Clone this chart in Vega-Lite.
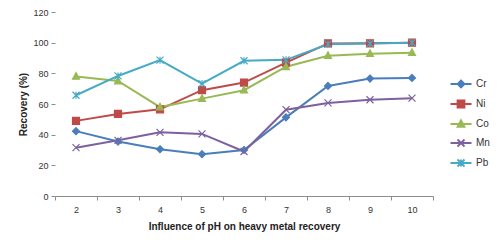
{
  "$schema": "https://vega.github.io/schema/vega-lite/v6.json",
  "autosize": "none",
  "width": 378,
  "height": 184,
  "padding": {"left": 55, "top": 12, "right": 67, "bottom": 52},
  "background": "white",
  "config": {
    "view": {"stroke": null},
    "font": "Liberation Sans",
    "axis": {"labelFont": "Liberation Sans", "titleFont": "Liberation Sans", "labelColor": "#333333", "titleColor": "#222222", "grid": false},
    "legend": {"labelFont": "Liberation Sans"}
  },
  "data": {
    "values": [
      {"pH": 2, "metal": "Cr", "value": 42.3},
      {"pH": 3, "metal": "Cr", "value": 35.5},
      {"pH": 4, "metal": "Cr", "value": 30.5},
      {"pH": 5, "metal": "Cr", "value": 27.3},
      {"pH": 6, "metal": "Cr", "value": 30},
      {"pH": 7, "metal": "Cr", "value": 51.3},
      {"pH": 8, "metal": "Cr", "value": 71.8},
      {"pH": 9, "metal": "Cr", "value": 76.6},
      {"pH": 10, "metal": "Cr", "value": 77},
      {"pH": 2, "metal": "Ni", "value": 49},
      {"pH": 3, "metal": "Ni", "value": 53.5},
      {"pH": 4, "metal": "Ni", "value": 56.5},
      {"pH": 5, "metal": "Ni", "value": 69},
      {"pH": 6, "metal": "Ni", "value": 74},
      {"pH": 7, "metal": "Ni", "value": 87},
      {"pH": 8, "metal": "Ni", "value": 99.5},
      {"pH": 9, "metal": "Ni", "value": 99.6},
      {"pH": 10, "metal": "Ni", "value": 100},
      {"pH": 2, "metal": "Co", "value": 78},
      {"pH": 3, "metal": "Co", "value": 75},
      {"pH": 4, "metal": "Co", "value": 58},
      {"pH": 5, "metal": "Co", "value": 63.5},
      {"pH": 6, "metal": "Co", "value": 69},
      {"pH": 7, "metal": "Co", "value": 84.3},
      {"pH": 8, "metal": "Co", "value": 91.5},
      {"pH": 9, "metal": "Co", "value": 92.8},
      {"pH": 10, "metal": "Co", "value": 93.5},
      {"pH": 2, "metal": "Mn", "value": 31.5},
      {"pH": 3, "metal": "Mn", "value": 36.3},
      {"pH": 4, "metal": "Mn", "value": 41.5},
      {"pH": 5, "metal": "Mn", "value": 40.5},
      {"pH": 6, "metal": "Mn", "value": 29},
      {"pH": 7, "metal": "Mn", "value": 56.3},
      {"pH": 8, "metal": "Mn", "value": 60.7},
      {"pH": 9, "metal": "Mn", "value": 62.8},
      {"pH": 10, "metal": "Mn", "value": 63.8},
      {"pH": 2, "metal": "Pb", "value": 65.7},
      {"pH": 3, "metal": "Pb", "value": 78.3},
      {"pH": 4, "metal": "Pb", "value": 88.6},
      {"pH": 5, "metal": "Pb", "value": 73.3},
      {"pH": 6, "metal": "Pb", "value": 88.2},
      {"pH": 7, "metal": "Pb", "value": 88.8},
      {"pH": 8, "metal": "Pb", "value": 99},
      {"pH": 9, "metal": "Pb", "value": 99.4},
      {"pH": 10, "metal": "Pb", "value": 100}
    ]
  },
  "encoding": {
    "x": {
      "field": "pH",
      "type": "ordinal",
      "scale": {"type": "band", "paddingInner": 0, "paddingOuter": 0},
      "axis": {
        "title": "Influence of pH on heavy metal recovery",
        "titleFontWeight": "bold",
        "titleFontSize": 10,
        "titlePadding": 7,
        "labelAngle": 0,
        "labelFontSize": 9,
        "labelPadding": 5,
        "tickBand": "extent",
        "tickSize": 4,
        "tickColor": "#8c8c8c",
        "domainColor": "#8c8c8c"
      }
    },
    "y": {
      "field": "value",
      "type": "quantitative",
      "scale": {"domain": [0, 120], "nice": false},
      "axis": {
        "title": "Recovery (%)",
        "titleFontWeight": "bold",
        "titleFontSize": 10,
        "titlePadding": 4,
        "values": [0, 20, 40, 60, 80, 100, 120],
        "labelFontSize": 9,
        "labelPadding": 3,
        "tickSize": 4,
        "tickColor": "#8c8c8c",
        "domain": false
      }
    },
    "color": {
      "field": "metal",
      "type": "nominal",
      "scale": {"domain": ["Cr", "Ni", "Co", "Mn", "Pb"], "range": ["#4a7ebb", "#be4b48", "#98b954", "#7d60a0", "#46aac5"]},
      "legend": {
        "title": null,
        "orient": "none",
        "legendX": 401,
        "legendY": 67,
        "labelFontSize": 10,
        "labelColor": "#333333",
        "rowPadding": 4,
        "symbolSize": 49,
        "labelOffset": 10,
        "encode": {
          "symbols": {
            "update": {
              "shape": {"signal": "datum.value === 'Cr' ? 'M-3,0L3,0M0,-1L1,0L0,1L-1,0Z' : datum.value === 'Ni' ? 'M-3,0L3,0M-1,-1L1,-1L1,1L-1,1Z' : datum.value === 'Co' ? 'M-3,0L3,0M0,-1.1L1,0.8L-1,0.8Z' : datum.value === 'Mn' ? 'M-3,0L3,0M-1,-1L1,1M-1,1L1,-1' : 'M-3,0L3,0M-1,-1L1,1M-1,1L1,-1M0,-1L0,1'"},
              "stroke": {"scale": "color", "field": "value"},
              "strokeWidth": {"value": 1.8}
            }
          }
        }
      }
    }
  },
  "layer": [
    {
      "mark": {"type": "line", "strokeWidth": 2},
      "encoding": {}
    },
    {
      "mark": {"type": "point", "filled": true, "size": 49, "strokeWidth": 1.2, "opacity": 1},
      "encoding": {
        "stroke": {
          "field": "metal",
          "type": "nominal",
          "scale": {"domain": ["Cr", "Ni", "Co", "Mn", "Pb"], "range": ["#4a7ebb", "#be4b48", "#98b954", "#7d60a0", "#46aac5"]},
          "legend": {
            "title": null,
            "orient": "none",
            "legendX": 401,
            "legendY": 67,
            "labelFontSize": 10,
            "labelColor": "#333333",
            "rowPadding": 4,
            "symbolSize": 49,
            "labelOffset": 10,
            "encode": {
              "symbols": {
                "update": {
                  "shape": {"signal": "datum.value === 'Cr' ? 'M-3,0L3,0M0,-1L1,0L0,1L-1,0Z' : datum.value === 'Ni' ? 'M-3,0L3,0M-1,-1L1,-1L1,1L-1,1Z' : datum.value === 'Co' ? 'M-3,0L3,0M0,-1.1L1,0.8L-1,0.8Z' : datum.value === 'Mn' ? 'M-3,0L3,0M-1,-1L1,1M-1,1L1,-1' : 'M-3,0L3,0M-1,-1L1,1M-1,1L1,-1M0,-1L0,1'"},
                  "stroke": {"scale": "color", "field": "value"},
                  "strokeWidth": {"value": 1.8}
                }
              }
            }
          }
        },
        "shape": {
          "field": "metal",
          "type": "nominal",
          "scale": {"domain": ["Pb", "Mn", "Co", "Ni", "Cr"], "range": ["M-1,-1L1,1M-1,1L1,-1M0,-1L0,1", "M-1,-1L1,1M-1,1L1,-1", "M0,-1.1L1,0.8L-1,0.8Z", "M-1,-1L1,-1L1,1L-1,1Z", "M0,-1L1,0L0,1L-1,0Z"]},
          "legend": null
        }
      }
    }
  ]
}
